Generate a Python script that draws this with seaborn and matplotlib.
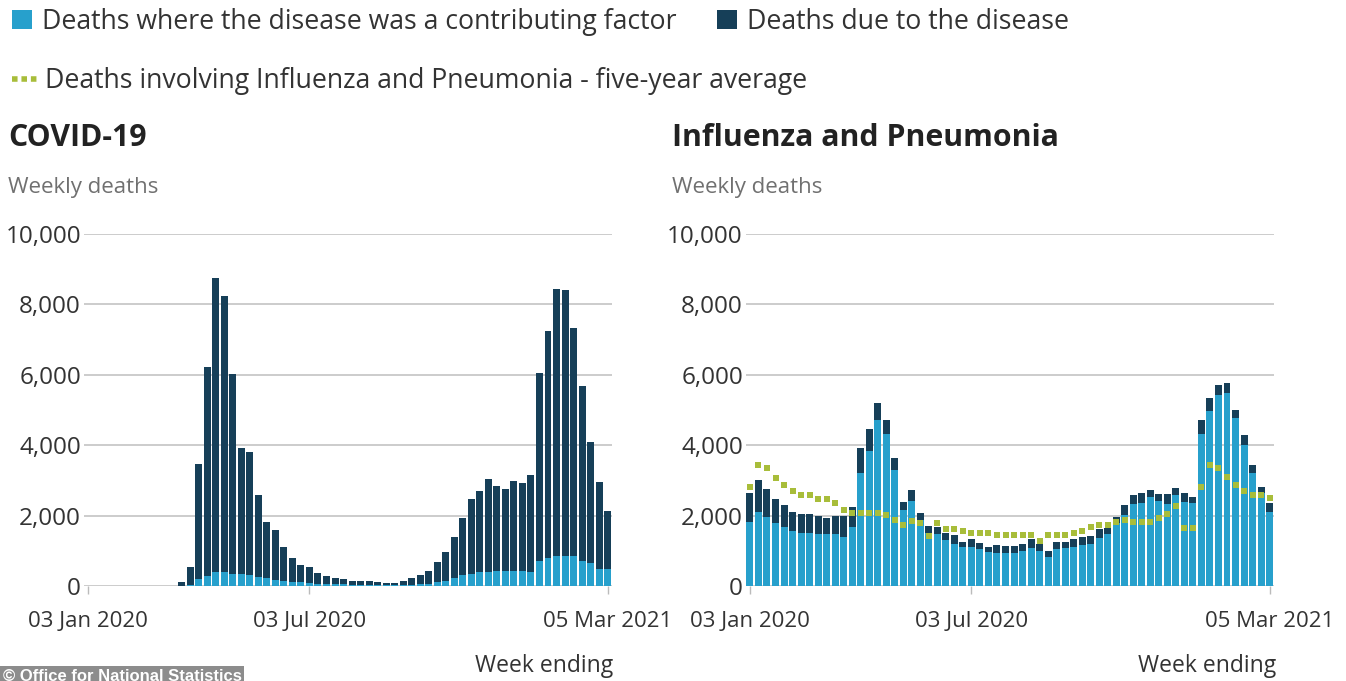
import matplotlib
matplotlib.use("Agg")
import matplotlib.pyplot as plt
from matplotlib.lines import Line2D
from matplotlib.patches import Patch
import numpy as np
import pandas as pd
import seaborn as sns

# Week ending dates, 03 Jan 2020 .. 05 Mar 2021
weeks = pd.date_range("2020-01-03", "2021-03-05", freq="7D")
tick_idx = [0, 26, 61]
tick_labels = ["03 Jan 2020", "03 Jul 2020", "05 Mar 2021"]
y_ticks = [0, 2000, 4000, 6000, 8000, 10000]

# COVID-19: deaths involving (bar total) and contributing-factor part (light)
covid_total = [
    0, 0, 0, 0, 0, 0, 0, 0, 0, 0,
    5, 103, 539, 3475, 6213, 8758, 8237, 6035, 3930, 3810,
    2589, 1822, 1588, 1114, 783, 606, 532, 366, 295, 217,
    193, 152, 139, 138, 101, 78, 99, 139, 215, 321,
    438, 670, 978, 1379, 1937, 2466, 2697, 3040, 2835, 2756,
    2986, 2912, 3144, 6057, 7245, 8433, 8422, 7320, 5691, 4079,
    2945, 2137,
]
covid_contrib = [
    0, 0, 0, 0, 0, 0, 0, 0, 0, 0,
    0, 10, 40, 200, 290, 400, 400, 340, 330, 300,
    250, 220, 170, 150, 120, 100, 85, 70, 60, 50,
    45, 35, 30, 30, 25, 20, 20, 25, 35, 50,
    70, 100, 140, 230, 300, 350, 390, 410, 420, 430,
    430, 420, 400, 720, 800, 850, 860, 850, 700, 640,
    480, 470,
]

# Influenza and Pneumonia
flu_total = [
    2630, 3010, 2750, 2470, 2300, 2090, 2045, 2045, 2000, 1920,
    1990, 1990, 2250, 3910, 4450, 5210, 4730, 3650, 2400, 2730,
    2080, 1715, 1665, 1515, 1440, 1260, 1325, 1210, 1120, 1165,
    1135, 1135, 1185, 1325, 1190, 1000, 1260, 1260, 1325, 1380,
    1420, 1610, 1640, 1970, 2300, 2585, 2630, 2730, 2610, 2610,
    2790, 2630, 2520, 4715, 5330, 5710, 5780, 5000, 4290, 3440,
    2800, 2350,
]
flu_contrib = [
    1830, 2090, 1970, 1780, 1680, 1570, 1515, 1515, 1480, 1480,
    1480, 1400, 1690, 3220, 3840, 4720, 4320, 3300, 2160, 2420,
    1870, 1515, 1475, 1305, 1190, 1100, 1100, 1040, 975, 930,
    930, 930, 1000, 1070, 1000, 830, 1040, 1070, 1120, 1165,
    1200, 1355, 1480, 1800, 2015, 2330, 2370, 2520, 2420, 2330,
    2585, 2400, 2350, 4320, 4980, 5425, 5470, 4760, 4005, 3200,
    2630, 2110,
]
flu_five_year_avg = [
    2820, 3450, 3340, 3070, 2865, 2690, 2585, 2585, 2485, 2485,
    2370, 2160, 2085, 2085, 2085, 2085, 2015, 1885, 1730, 1850,
    1780, 1430, 1800, 1630, 1630, 1550, 1500, 1500, 1500, 1450,
    1450, 1450, 1450, 1450, 1290, 1450, 1450, 1450, 1515, 1570,
    1690, 1730, 1730, 1830, 1875, 1830, 1830, 1830, 1920, 2045,
    2270, 1660, 1660, 2800, 3440, 3340, 3090, 2870, 2710, 2585,
    2585, 2490,
]

LIGHT = "#27a0cc"
DARK = "#163f58"
GREEN = "#a8bd3a"
TEXT = "#333333"
GREY_TEXT = "#707070"
GRID = "#c8c8c8"

sns.set_theme(style="white")
plt.rcParams["font.family"] = ["Open Sans", "DejaVu Sans"]

fig = plt.figure(figsize=(13.46, 6.81), dpi=100)
ax_l = fig.add_axes([0.0622, 0.1395, 0.3924, 0.5169])
ax_r = fig.add_axes([0.5540, 0.1395, 0.3924, 0.5169])


def draw_panel(ax, total, contrib, avg=None):
    df = pd.DataFrame({
        "week": weeks.strftime("%d %b %Y"),
        "total": total,
        "contrib": contrib,
    })
    # stacked look: full bar in dark, contributing part drawn over it
    sns.barplot(data=df, x="week", y="total", color=DARK, saturation=1,
                width=0.82, linewidth=0, ax=ax, zorder=2)
    sns.barplot(data=df, x="week", y="contrib", color=LIGHT, saturation=1,
                width=0.82, linewidth=0, ax=ax, zorder=3)
    if avg is not None:
        sns.scatterplot(x=np.arange(len(avg)), y=avg, marker="s", s=24,
                        color=GREEN, linewidth=0, ax=ax, zorder=5)

    ax.set_xlim(-0.5, len(total) - 0.5)
    ax.set_ylim(0, 10000)
    ax.set_xticks(tick_idx)
    ax.set_xticklabels(tick_labels)
    ax.set_yticks(y_ticks)
    ax.set_yticklabels([f"{v:,}" for v in y_ticks])
    ax.set_xlabel("")
    ax.set_ylabel("")
    ax.yaxis.grid(True, color=GRID, linewidth=1.3)
    ax.set_axisbelow(True)
    for s in ax.spines.values():
        s.set_visible(False)
    ax.tick_params(axis="x", bottom=True, length=6, width=1, color="#bbbbbb",
                   pad=12, labelsize=16, labelcolor=TEXT)
    ax.tick_params(axis="y", left=False, length=0, pad=2, labelsize=17.5,
                   labelcolor=TEXT)


draw_panel(ax_l, covid_total, covid_contrib)
draw_panel(ax_r, flu_total, flu_contrib, flu_five_year_avg)

# Titles and axis captions
fig.text(0.006, 0.797, "COVID-19", fontsize=21.8, fontweight="bold",
         color="#222222", va="center")
fig.text(0.4993, 0.797, "Influenza and Pneumonia", fontsize=21.8,
         fontweight="bold", color="#222222", va="center")
fig.text(0.006, 0.7254, "Weekly deaths", fontsize=16, color=GREY_TEXT,
         va="center")
fig.text(0.4993, 0.7254, "Weekly deaths", fontsize=16, color=GREY_TEXT,
         va="center")
fig.text(0.4554, 0.022, "Week ending", fontsize=16.5, color=TEXT,
         ha="right", va="center")
fig.text(0.948, 0.022, "Week ending", fontsize=16.5, color=TEXT,
         ha="right", va="center")

# Legend across the top: two bar keys on one row, the average below
bar_handles = [
    Patch(facecolor=LIGHT, edgecolor="none"),
    Patch(facecolor=DARK, edgecolor="none"),
]
bar_labels = [
    "Deaths where the disease was a contributing factor",
    "Deaths due to the disease",
]
fig.legend(bar_handles, bar_labels, ncol=2, loc="center left",
           bbox_to_anchor=(0.0089, 0.968), frameon=False, fontsize=19.2,
           labelcolor=TEXT, handlelength=0.76, handleheight=0.76,
           handletextpad=0.38, columnspacing=1.5,
           borderaxespad=0, borderpad=0)

avg_handle = Line2D([], [], color=GREEN, linestyle=(0, (1, 0.7)),
                    linewidth=4)
fig.legend([avg_handle],
           ["Deaths involving Influenza and Pneumonia - five-year average"],
           loc="center left", bbox_to_anchor=(0.0089, 0.8805), frameon=False,
           fontsize=19.2, labelcolor=TEXT, handlelength=0.95,
           handletextpad=0.27, borderaxespad=0, borderpad=0)

# Source credit, cut by the bottom edge as in the original
fig.text(0.002, -0.004, "\u00a9 Office for National Statistics", fontsize=12,
         fontweight="bold", color="white",
         family=["Liberation Sans", "DejaVu Sans"],
         va="bottom", bbox=dict(facecolor="#8c8c8c", edgecolor="none", pad=2))

fig.savefig("out.png", dpi=100)
